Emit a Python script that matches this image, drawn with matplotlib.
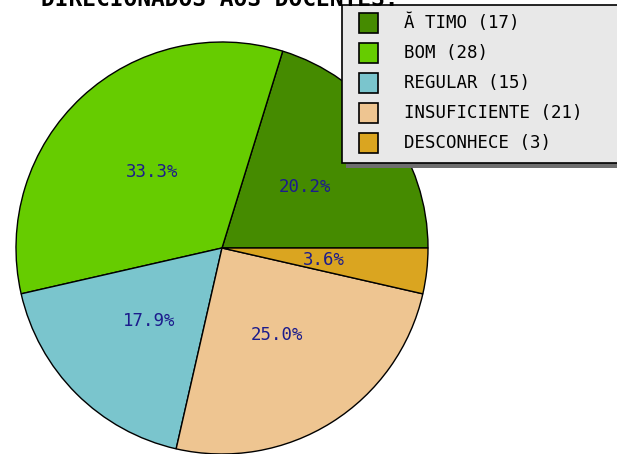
import matplotlib
matplotlib.use("Agg")
import matplotlib.pyplot as plt
from matplotlib.patches import Rectangle

categories = ["Ă TIMO", "BOM", "REGULAR", "INSUFICIENTE", "DESCONHECE"]
counts = [17, 28, 15, 21, 3]
colors = ["#458B00", "#66CC00", "#7AC5CD", "#EEC591", "#DAA520"]
title = "DIRECIONADOS AOS DOCENTES:"

W, H = 617, 454
fig = plt.figure(figsize=(W / 100, H / 100), dpi=100)
ax = fig.add_axes([0, 0, 1, 1])

mono = "DejaVu Sans Mono"
wedges, texts, autotexts = ax.pie(
    counts, colors=colors, startangle=0, counterclock=True,
    center=(222, H - 248), radius=206,
    wedgeprops=dict(edgecolor="black", linewidth=1.0),
    autopct="%1.1f%%", pctdistance=0.5,
    textprops=dict(family=mono, fontsize=12.5, color="#1c1c8c"),
)
ax.set_xlim(0, W)
ax.set_ylim(0, H)
ax.set_aspect("equal")
ax.set_axis_off()

# legend (figure pixel coords, y measured from top)
def Y(y):
    return H - y

lx0, ly0, lx1, ly1 = 342, 5, 630, 163
ax.add_patch(Rectangle((lx0 + 4, Y(ly1 + 5)), lx1 - lx0, ly1 - ly0,
                       facecolor="#6e6e6e", edgecolor="none", zorder=5, clip_on=False))
ax.add_patch(Rectangle((lx0, Y(ly1)), lx1 - lx0, ly1 - ly0,
                       facecolor="#e8e8e8", edgecolor="black", linewidth=1.2, zorder=6, clip_on=False))
for i, (cat, n, c) in enumerate(zip(categories, counts, colors)):
    cy = 23 + i * 30
    ax.add_patch(Rectangle((359, Y(cy + 10)), 19, 20, facecolor=c,
                           edgecolor="black", linewidth=1.2, zorder=7))
    ax.text(404, Y(cy), f"{cat} ({n})", family=mono, fontsize=12.5,
            color="black", va="center", ha="left", zorder=8)

ax.text(220, Y(6), title, family=mono, fontsize=16.5, fontweight="bold",
        color="black", ha="center", va="baseline", zorder=9)

fig.savefig("out.png", dpi=100)
